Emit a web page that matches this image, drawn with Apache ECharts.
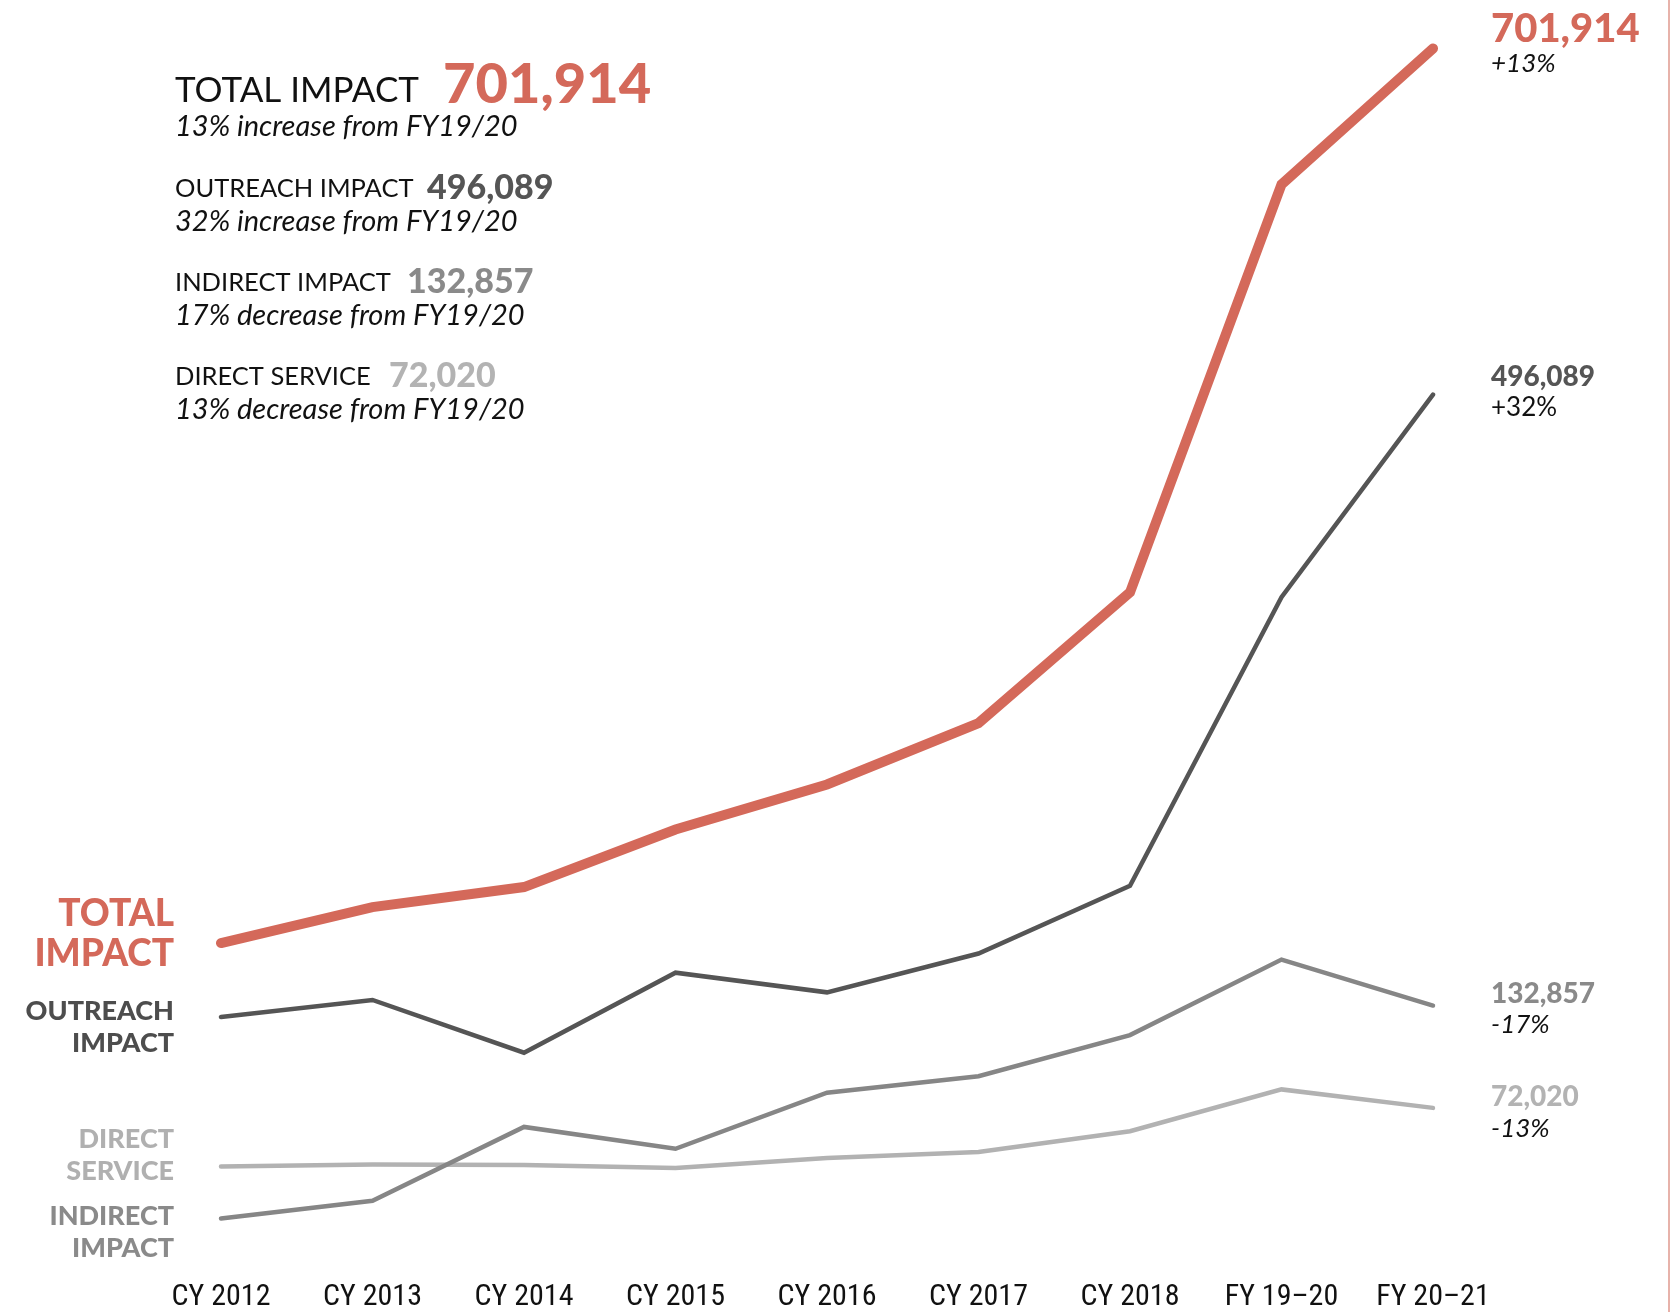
<!DOCTYPE html>
<html>
<head>
<meta charset="utf-8">
<script src="https://cdn.jsdelivr.net/npm/echarts@6/dist/echarts.min.js"></script>
<style>
html,body{margin:0;padding:0;background:#fff;}
#chart{width:1671px;height:1312px;}
</style>
</head>
<body>
<div id="chart"></div>
<script>
// ---- data ----
var categories = ['CY 2012','CY 2013','CY 2014','CY 2015','CY 2016','CY 2017','CY 2018','FY 19\u201320','FY 20\u201321'];
var totalImpact    = [170000, 191400, 203300, 237500, 264300, 300800, 378500, 621000, 701914];
var outreachImpact = [126100, 136200, 104800, 152400, 140700, 163800, 204100, 375700, 496089];
var indirectImpact = [6200, 16800, 60700, 47700, 81000, 90800, 115300, 160200, 132857];
var directService  = [37200, 38400, 38000, 36200, 42200, 45800, 58100, 83000, 72020];

var seriesNames = ['TOTAL IMPACT','OUTREACH IMPACT','INDIRECT IMPACT','DIRECT SERVICE'];
var endValueLabels = ['701,914','496,089','132,857','72,020'];
var endChangeLabels = ['+13%','+32%','-17%','-13%'];
var summaryLines = ['13% increase from FY19/20','32% increase from FY19/20','17% decrease from FY19/20','13% decrease from FY19/20'];

// ---- style ----
var C_TOTAL = '#D4695A', C_OUT = '#555555', C_IND = '#868686', C_DIR = '#B2B2B2';
var FONT = 'Lato, "Open Sans", "Liberation Sans", sans-serif';

function txt(x, y, s, size, color, weight, style, align) {
  return {
    type: 'text', silent: true,
    style: {
      x: x, y: y, text: s, fill: color,
      font: (style || 'normal') + ' ' + (weight || 'normal') + ' ' + size + 'px ' + FONT,
      textAlign: align || 'left', textVerticalAlign: 'middle', verticalAlign: 'middle'
    }
  };
}

var graphics = [
  // top-left summary block
  txt(175, 91, seriesNames[0], 35, '#111111', 'normal'),
  txt(443, 85, endValueLabels[0], 56, C_TOTAL, '900'),
  txt(175, 127, summaryLines[0], 29, '#111111', 'normal', 'italic'),

  txt(175, 189, seriesNames[1], 25.5, '#111111', 'normal'),
  txt(427, 188, endValueLabels[1], 34, C_OUT, '900'),
  txt(175, 222, summaryLines[1], 29, '#111111', 'normal', 'italic'),

  txt(175, 283, seriesNames[2], 25.5, '#111111', 'normal'),
  txt(407, 282, endValueLabels[2], 34, '#8a8a8a', '900'),
  txt(175, 316, summaryLines[2], 29, '#111111', 'normal', 'italic'),

  txt(175, 377, seriesNames[3], 25.5, '#111111', 'normal'),
  txt(389, 376, endValueLabels[3], 34, '#b3b3b3', '900'),
  txt(175, 410, summaryLines[3], 29, '#111111', 'normal', 'italic'),

  // right end labels
  txt(1491, 29, endValueLabels[0], 40, C_TOTAL, '900'),
  txt(1491, 64, endChangeLabels[0], 26, '#111111', 'normal', 'italic'),
  txt(1491, 377, endValueLabels[1], 28, C_OUT, '900'),
  txt(1491, 408, endChangeLabels[1], 26, '#111111', 'normal'),
  txt(1491, 994, endValueLabels[2], 28, '#8a8a8a', '900'),
  txt(1491, 1025, endChangeLabels[2], 26, '#111111', 'normal', 'italic'),
  txt(1491, 1097, endValueLabels[3], 28, '#b3b3b3', '900'),
  txt(1491, 1129, endChangeLabels[3], 26, '#111111', 'normal', 'italic'),

  // left series labels
  txt(174, 914, 'TOTAL', 37, C_TOTAL, '900', 'normal', 'right'),
  txt(174, 954, 'IMPACT', 37, C_TOTAL, '900', 'normal', 'right'),
  txt(174, 1011, 'OUTREACH', 27, '#4d4d4d', '900', 'normal', 'right'),
  txt(174, 1043, 'IMPACT', 27, '#4d4d4d', '900', 'normal', 'right'),
  txt(174, 1139, 'DIRECT', 27, '#b0b0b0', '900', 'normal', 'right'),
  txt(174, 1171, 'SERVICE', 27, '#b0b0b0', '900', 'normal', 'right'),
  txt(174, 1216, 'INDIRECT', 27, '#8a8a8a', '900', 'normal', 'right'),
  txt(174, 1248, 'IMPACT', 27, '#8a8a8a', '900', 'normal', 'right'),

  // faint page edge at right
  { type: 'rect', silent: true, shape: { x: 1668, y: 0, width: 2, height: 1312 }, style: { fill: '#e7b2aa' } }
];

function lineSeries(name, data, color, width, z) {
  return {
    name: name, type: 'line', data: data, symbol: 'none', z: z,
    lineStyle: { color: color, width: width, cap: 'round', join: 'miter' },
    emphasis: { disabled: true }
  };
}

var chart = echarts.init(document.getElementById('chart'), null, { renderer: 'canvas' });
chart.setOption({
  animation: false,
  backgroundColor: '#ffffff',
  grid: { left: 221, right: 238, top: 18, bottom: 80, containLabel: false },
  xAxis: {
    type: 'category', data: categories, boundaryGap: false,
    axisLine: { show: false }, axisTick: { show: false }, splitLine: { show: false },
    axisLabel: {
      margin: 53, color: '#111111', fontSize: 30,
      fontFamily: '"Liberation Sans Narrow", "Roboto Condensed", "Liberation Sans", sans-serif',
      interval: 0
    }
  },
  yAxis: {
    type: 'value', min: 0, max: 720000, show: false,
    splitLine: { show: false }
  },
  series: [
    lineSeries(seriesNames[3], directService, C_DIR, 4.5, 2),
    lineSeries(seriesNames[2], indirectImpact, C_IND, 4.5, 3),
    lineSeries(seriesNames[1], outreachImpact, C_OUT, 4.5, 4),
    lineSeries(seriesNames[0], totalImpact, C_TOTAL, 10, 5)
  ],
  graphic: graphics
});
</script>
</body>
</html>
